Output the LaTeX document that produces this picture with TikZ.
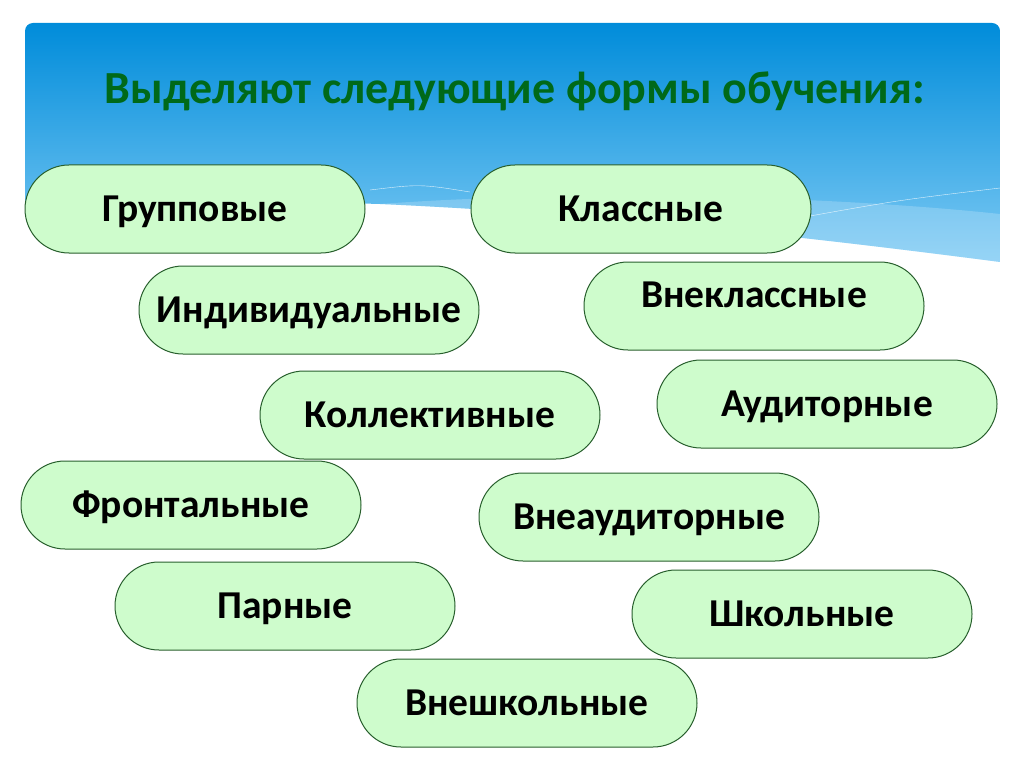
\documentclass[tikz,border=0pt]{standalone}
\usepackage{fontspec}
\setmainfont{Carlito}
\usetikzlibrary{shapes.misc}
\definecolor{bluetop}{RGB}{0,140,218}
\definecolor{bluebot}{RGB}{125,202,244}
\definecolor{pillfill}{RGB}{206,252,204}
\definecolor{pilldraw}{RGB}{40,95,45}
\definecolor{titlegreen}{RGB}{0,105,25}
\tikzset{
  form/.style={rounded rectangle, draw=pilldraw, line width=1pt, fill=pillfill,
    minimum width=340pt, minimum height=88pt, inner sep=0pt, text height=25pt, text depth=0pt,
    font=\bfseries\fontsize{39.5}{41}\selectfont},
  heading/.style={font=\bfseries\fontsize{46}{48}\selectfont, text=titlegreen}
}
\begin{document}
\begin{tikzpicture}[x=1pt,y=-1pt,line join=round,line cap=round]
				\useasboundingbox (0,0) rectangle (1024,767);
				% banner
				\shade[top color=bluetop, bottom color=bluebot] (25,216) [rounded corners=8pt] -- (25,23) -- (1000,23) [sharp corners] -- (1000,262)
				  .. controls (800,236) and (600,214) .. (380,204) .. controls (250,200) and (100,210) .. (25,216) -- cycle;
				\fill[white, opacity=.2] (380,204) .. controls (600,188) and (850,198) .. (1000,214) -- (1000,262) .. controls (800,236) and (600,214) .. (380,204) -- cycle;
				\draw[white, opacity=.8, thin] (370,190) .. controls (420,184) .. (470,192) (810,216) .. controls (900,200) .. (1000,188);
				\node[heading] (T) at (515,91) {Выделяют следующие формы обучения:};
				% forms
				\foreach \n/\x/\y/\t in {grp/195/209/Групповые, kls/641/209/Классные, ind/309/310/Индивидуальные,
				  kol/430/415/Коллективные, aud/827/404/Аудиторные, fro/191/505/Фронтальные,
				  vau/649/517/Внеаудиторные, par/285/606/Парные, shk/802/614/Школьные, vsh/527/703/Внешкольные}{
				  \node[form] (\n) at (\x,\y) {\t};}
				\node[form] (vkl) at (754,306) {\raisebox{11pt}{Внеклассные}};
			\end{tikzpicture}
\end{document}
